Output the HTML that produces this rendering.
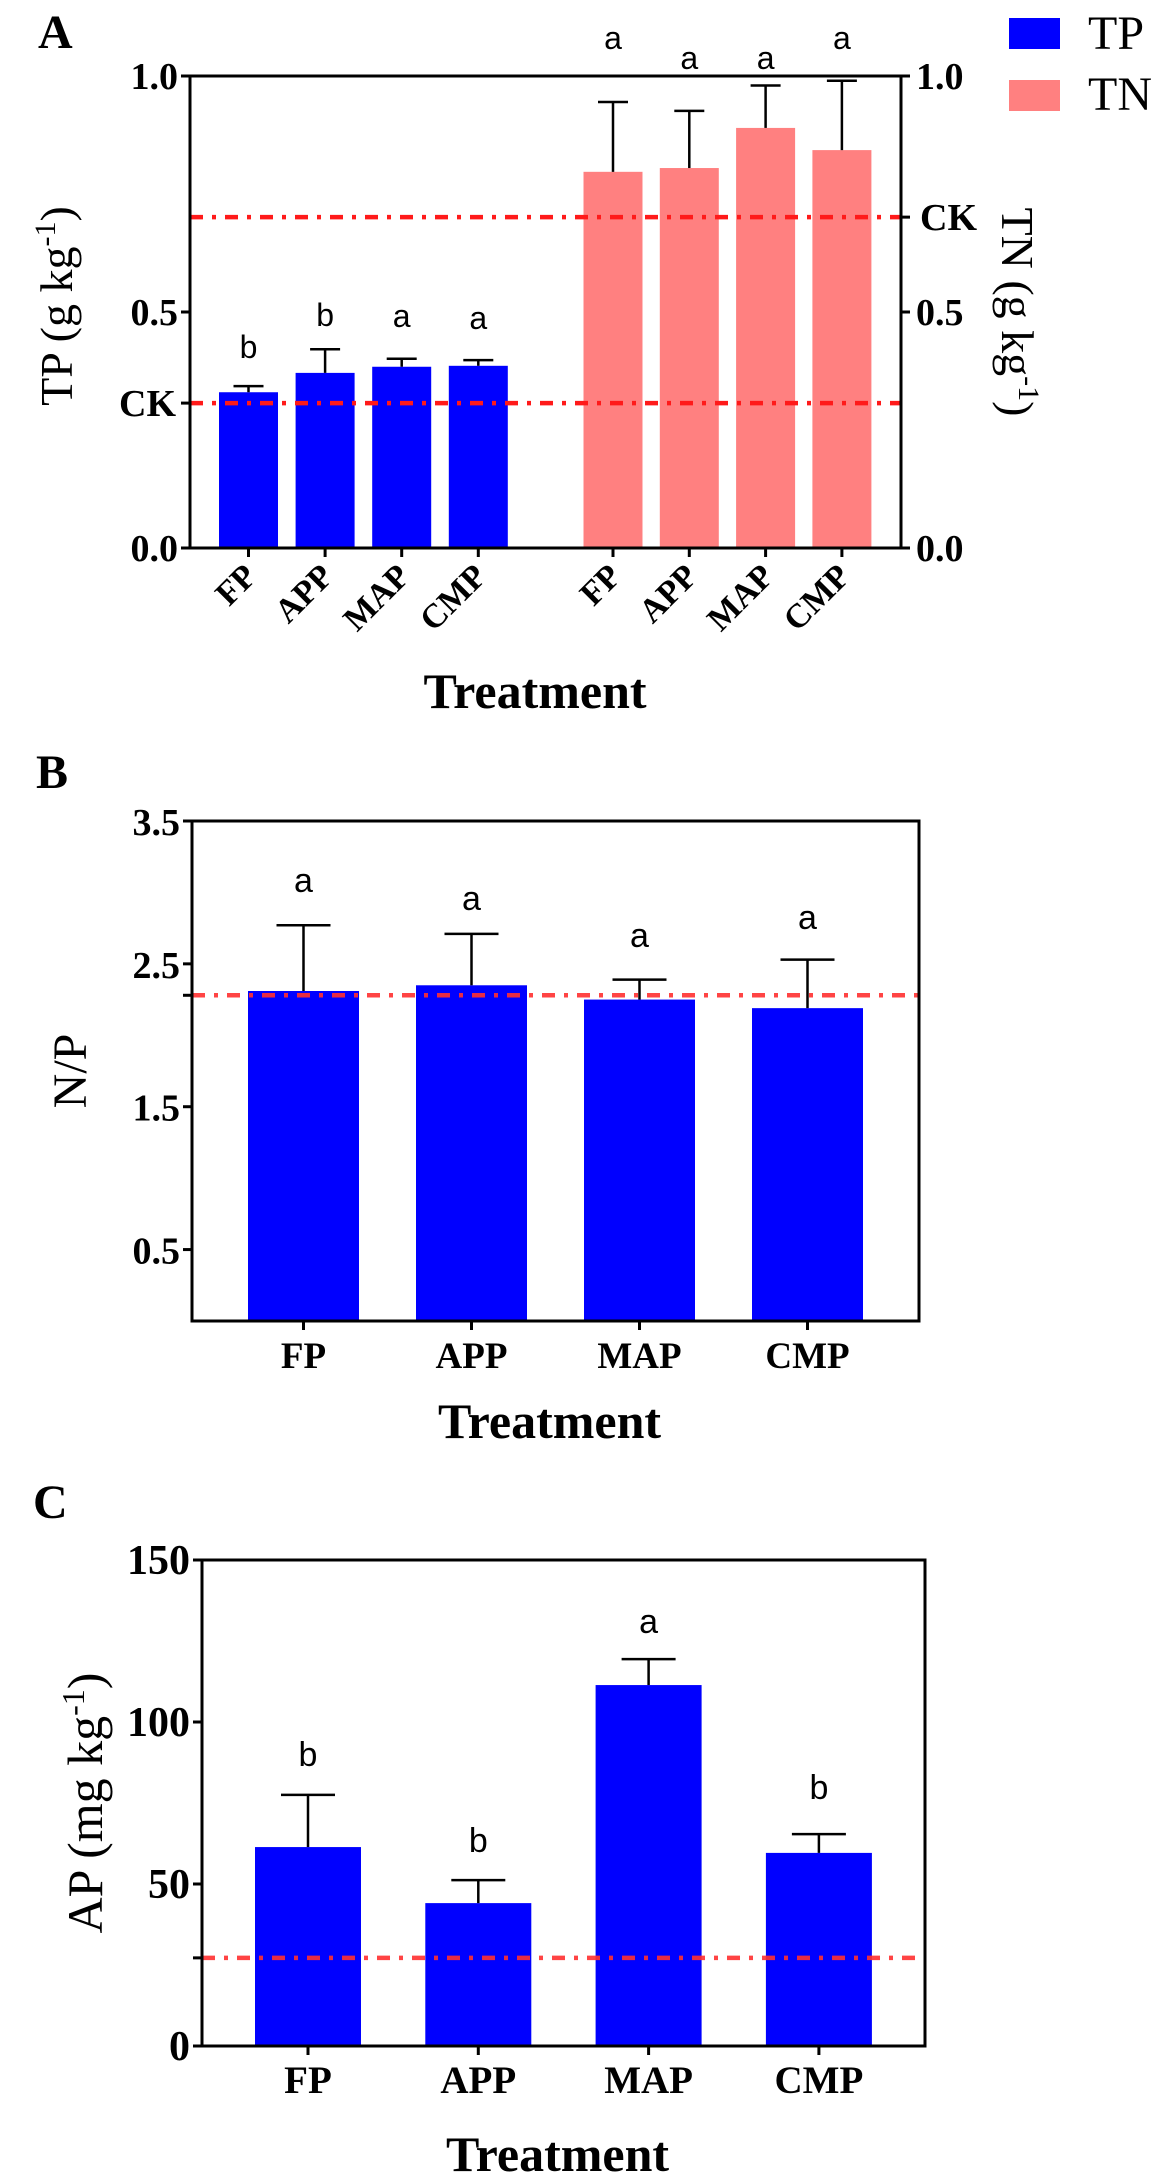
<!DOCTYPE html>
<html><head><meta charset="utf-8"><style>
html,body{margin:0;padding:0;background:#fff;}
svg{display:block;}
text{font-family:"Liberation Serif",serif;}
.sans{font-family:"Liberation Sans",sans-serif;}
</style></head><body>
<svg id="fig" width="1160" height="2184" viewBox="0 0 1160 2184" xmlns="http://www.w3.org/2000/svg"></svg>
<script>
// ---------- Data ----------
const catsA = ["FP","APP","MAP","CMP"];
const tpMean = [0.33, 0.371, 0.384, 0.386];
const tpErr = [0.013, 0.05, 0.017, 0.012];
const tpLetters = ["b","b","a","a"];
const tnMean = [0.797, 0.805, 0.89, 0.843];
const tnErr = [0.148, 0.121, 0.09, 0.147];
const tnLetters = ["a","a","a","a"];
const ckTP = 0.307;
const ckTN = 0.701;
const ticksA = [0, 0.5, 1.0];

const catsB = ["FP","APP","MAP","CMP"];
const npMean = [2.31, 2.35, 2.25, 2.19];
const npErr = [0.46, 0.36, 0.14, 0.34];
const npLetters = ["a","a","a","a"];
const ckNP = 2.28;
const ticksB = [0.5, 1.5, 2.5, 3.5];

const catsC = ["FP","APP","MAP","CMP"];
const apMean = [61.4, 44.1, 111.4, 59.6];
const apErr = [16.1, 7.1, 8.0, 5.8];
const apLetters = ["b","b","a","b"];
const ckAP = 27.2;
const ticksC = [0, 50, 100, 150];

// ---------- helpers ----------
const NS = "http://www.w3.org/2000/svg";
const svg = document.getElementById("fig");
function mk(tag, attrs, parent){
  const e = document.createElementNS(NS, tag);
  for (const k in attrs) e.setAttribute(k, attrs[k]);
  (parent||svg).appendChild(e);
  return e;
}
function txt(s, attrs, parent){ const t = mk("text", attrs, parent); t.textContent = s; return t; }
const DASH = "13 9 4 9";

// ---------- Panel A ----------
(function(){
  const g = mk("g", {});
  
  
  const L = 190, R = 901, T = 76, B = 548;
  const y = v => B - v * (B - T);
  const tpX = i => 248.5 + i * 76.6;
  const tnX = i => 613 + i * 76.3;
  const bw = 59;
  const pl = txt("A", {x:38, y:48, "font-size":48, "font-weight":"bold"}, g);
  
  
  tpMean.forEach((v,i)=>{
    const r = mk("rect", {x:tpX(i)-bw/2, y:y(v), width:bw, height:y(0)-y(v), fill:"#0000ff"}, g);
    
    
  });
  tnMean.forEach((v,i)=>{
    const r = mk("rect", {x:tnX(i)-bw/2, y:y(v), width:bw, height:y(0)-y(v), fill:"#ff8080"}, g);
    
    
  });
  function eb(x, v, e, name){
    const eg = mk("g", {stroke:"#000", "stroke-width":2.5}, g);
    
    
    mk("line", {x1:x, x2:x, y1:y(v), y2:y(v+e)}, eg);
    mk("line", {x1:x-15, x2:x+15, y1:y(v+e), y2:y(v+e)}, eg);
  }
  tpMean.forEach((v,i)=>eb(tpX(i), v, tpErr[i], 'tp-error-bar-' + catsA[i].toLowerCase()));
  tnMean.forEach((v,i)=>eb(tnX(i), v, tnErr[i], 'tn-error-bar-' + catsA[i].toLowerCase()));
  [ckTP, ckTN].forEach((v,k)=>{
    const l = mk("line", {x1:L, x2:R, y1:y(v), y2:y(v), stroke:"#ff1a1a", "stroke-width":4.5, "stroke-dasharray":DASH}, g);
    
    
  });
  const ax = mk("path", {d:`M${L},${T} V${B} H${R} V${T} H${L}`, fill:"none", stroke:"#000", "stroke-width":3}, g);
  
  
  ticksA.forEach(v=>{
    mk("line", {x1:L-9, x2:L, y1:y(v), y2:y(v), stroke:"#000", "stroke-width":3}, g);
    mk("line", {x1:R, x2:R+9, y1:y(v), y2:y(v), stroke:"#000", "stroke-width":3}, g);
    const tl = txt(v.toFixed(1), {x:L-12, y:y(v)+13, "font-size":38, "font-weight":"bold", "text-anchor":"end"}, g);
    
    
    const tr = txt(v.toFixed(1), {x:R+15, y:y(v)+13, "font-size":38, "font-weight":"bold"}, g);
    
    
  });
  mk("line", {x1:L-9, x2:L, y1:y(ckTP), y2:y(ckTP), stroke:"#000", "stroke-width":3}, g);
  mk("line", {x1:R, x2:R+9, y1:y(ckTN), y2:y(ckTN), stroke:"#000", "stroke-width":3}, g);
  const ck1 = txt("CK", {x:L-14, y:y(ckTP)+13, "font-size":38, "font-weight":"bold", "text-anchor":"end"}, g);
  
  
  const ck2 = txt("CK", {x:R+19, y:y(ckTN)+13, "font-size":38, "font-weight":"bold"}, g);
  
  
  const xs = catsA.map((c,i)=>[tpX(i),c]).concat(catsA.map((c,i)=>[tnX(i),c]));
  xs.forEach(([x,c])=>{
    mk("line", {x1:x, x2:x, y1:B, y2:B+9, stroke:"#000", "stroke-width":3}, g);
    const t = txt(c, {x:0, y:0, "font-size":34, "font-weight":"bold", "text-anchor":"end", transform:`translate(${x+10},${B+30}) rotate(-45)`}, g);
    
    
  });
  tpMean.forEach((v,i)=>{
    const t = txt(tpLetters[i], {x:tpX(i), y:[358,326,327,329][i], "font-size":32, "text-anchor":"middle", class:"sans"}, g);
    
    
  });
  tnMean.forEach((v,i)=>{
    const t = txt(tnLetters[i], {x:tnX(i), y:[49,69,69,49][i], "font-size":32, "text-anchor":"middle", class:"sans"}, g);
    
    
  });
  const xt = txt("Treatment", {x:535, y:708, "font-size":50, "font-weight":"bold", "text-anchor":"middle"}, g);
  
  
  const yt = mk("text", {x:0, y:0, "font-size":46, "text-anchor":"middle", transform:"translate(72,306) rotate(-90)"}, g);
  yt.innerHTML = 'TP (g kg<tspan dy="-17" font-size="30">-1</tspan><tspan dy="17">)</tspan>';
  
  
  const yt2 = mk("text", {x:0, y:0, "font-size":46, "text-anchor":"middle", transform:"translate(1002,312) rotate(90)"}, g);
  yt2.innerHTML = 'TN (g kg<tspan dy="-17" font-size="30">-1</tspan><tspan dy="17">)</tspan>';
  
  
  const lg = mk("g", {}, g);
  
  
  const s1 = mk("rect", {x:1009, y:18, width:51, height:31, fill:"#0000ff"}, lg);
  
  
  const s2 = mk("rect", {x:1009, y:80, width:51, height:31, fill:"#ff8080"}, lg);
  
  
  const l1 = txt("TP", {x:1088, y:49, "font-size":48}, lg);
  
  
  const l2 = txt("TN", {x:1088, y:110, "font-size":48}, lg);
  
  
})();

// ---------- generic single-series panel ----------
function panel(opt){
  const g = mk("g", {});
  
  
  const {L,R,T,B,vmin,vmax} = opt;
  const y = v => B - (v - vmin) / (vmax - vmin) * (B - T);
  const x = i => opt.x0 + i * opt.dx;
  const pl = txt(opt.label, {x:opt.lx, y:opt.ly, "font-size":48, "font-weight":"bold"}, g);
  
  
  opt.mean.forEach((v,i)=>{
    const r = mk("rect", {x:x(i)-opt.bw/2, y:y(v), width:opt.bw, height:y(vmin)-y(v), fill:"#0000ff"}, g);
    
    
  });
  opt.mean.forEach((v,i)=>{
    const eg = mk("g", {stroke:"#000", "stroke-width":2.5}, g);
    
    
    const e = opt.err[i];
    mk("line", {x1:x(i), x2:x(i), y1:y(v), y2:y(v+e)}, eg);
    mk("line", {x1:x(i)-27, x2:x(i)+27, y1:y(v+e), y2:y(v+e)}, eg);
  });
  const ck = mk("line", {x1:L, x2:R, y1:y(opt.ck), y2:y(opt.ck), stroke:"#ff3030", "stroke-width":4.5, "stroke-dasharray":DASH, opacity:0.9}, g);
  
  
  const ax = mk("rect", {x:L, y:T, width:R-L, height:B-T, fill:"none", stroke:"#000", "stroke-width":3}, g);
  
  
  opt.ticks.forEach((v,k)=>{
    mk("line", {x1:L-9, x2:L, y1:y(v), y2:y(v), stroke:"#000", "stroke-width":3}, g);
    const t = txt(opt.tickLabels[k], {x:L-12, y:y(v)+14, "font-size":opt.tfs, "font-weight":"bold", "text-anchor":"end"}, g);
    
    
  });
  mk("line", {x1:L-9, x2:L, y1:y(opt.ck), y2:y(opt.ck), stroke:"#000", "stroke-width":3}, g);
  opt.cats.forEach((c,i)=>{
    mk("line", {x1:x(i), x2:x(i), y1:B, y2:B+9, stroke:"#000", "stroke-width":3}, g);
    const t = txt(c, {x:x(i), y:B+47, "font-size":opt.xfs, "font-weight":"bold", "text-anchor":"middle"}, g);
    
    
    const lt = txt(opt.letters[i], {x:x(i), y:opt.letterY[i], "font-size":34, "text-anchor":"middle", class:"sans"}, g);
    
    
  });
  const xt = txt("Treatment", {x:(L+R)/2-6, y:opt.xty, "font-size":50, "font-weight":"bold", "text-anchor":"middle"}, g);
  
  
  const yt = mk("text", {x:0, y:0, "font-size":opt.yfs, "text-anchor":"middle", transform:`translate(${opt.ytx},${(T+B)/2}) rotate(-90)`}, g);
  yt.innerHTML = opt.ytitle;
  
  
}

panel({name:"panel-b", label:"B", lx:36, ly:788, L:192, R:919, T:821, B:1321, vmin:0, vmax:3.5,
  cats:catsB, mean:npMean, err:npErr, letters:npLetters, letterY:[892,910,947,929], ck:ckNP,
  ticks:ticksB, tickLabels:["0.5","1.5","2.5","3.5"], tfs:38, xfs:37, x0:303.5, dx:168, bw:111,
  xty:1438, ytx:86, yfs:48, ytitle:"N/P"});

panel({name:"panel-c", label:"C", lx:33, ly:1518, L:202, R:925, T:1560, B:2046, vmin:0, vmax:150,
  cats:catsC, mean:apMean, err:apErr, letters:apLetters, letterY:[1766,1852,1633,1799], ck:ckAP,
  ticks:ticksC, tickLabels:["0","50","100","150"], tfs:42, xfs:39, x0:308, dx:170.3, bw:106,
  xty:2171, ytx:102, yfs:50, ytitle:'AP (mg kg<tspan dy="-18" font-size="32">-1</tspan><tspan dy="18">)</tspan>'});
</script>
</body></html>
